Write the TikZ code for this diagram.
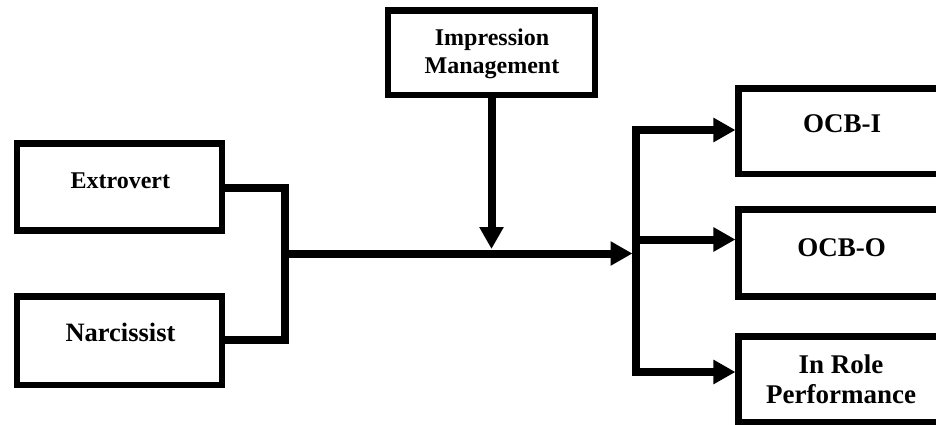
\documentclass[tikz,border=0pt]{standalone}
\usepackage{fontspec}
\setmainfont{Liberation Serif}
\usetikzlibrary{arrows.meta}
\tikzset{
  box/.style={draw=black, line width=6.5pt, inner sep=0pt, minimum width=205pt},
  conn/.style={draw=black, line width=8pt, line join=miter},
  tipped/.style={conn, -{Triangle[length=22pt,width=23pt]}},
  lblA/.style={anchor=base, inner sep=0pt, font=\fontsize{24}{28}\selectfont\bfseries},
  lblB/.style={anchor=base, inner sep=0pt, font=\fontsize{26.5}{30}\selectfont\bfseries},
  lblC/.style={anchor=base, inner sep=0pt, font=\fontsize{27}{30}\selectfont\bfseries}
}
\begin{document}
\begin{tikzpicture}[x=1pt,y=-1pt]
\useasboundingbox (0,0) rectangle (936,425);
\clip (0,0) rectangle (936,425);
\fill[white] (0,0) rectangle (936,425);

% boxes
\node[box, minimum height=87pt] (ext) at (119.5,187) {};
\node[box, minimum height=88.5pt] (nar) at (119.5,340.75) {};
\node[box, minimum width=207pt, minimum height=84.5pt] (im) at (491.5,53) {};
\node[box, minimum width=206pt, minimum height=85.7pt] (ocbi) at (841.7,131.2) {};
\node[box, minimum width=206pt, minimum height=87pt] (ocbo) at (841.7,253) {};
\node[box, minimum width=206pt, minimum height=85.5pt] (irp) at (841.7,379.25) {};

% texts
\node[lblA] (extT) at (120.3,188.3) {Extrovert};
\node[lblB] (narT) at (120.5,341) {Narcissist};
\node[lblA] (imT1) at (492,46) {Impression};
\node[lblA] (imT2) at (492,74) {Management};
\node[lblC] (ocbiT) at (842,132.3) {OCB-I};
\node[lblC] (ocboT) at (841.7,256.7) {OCB-O};
\node[lblC] (irpT1) at (841,373.3) {In Role};
\node[lblC] (irpT2) at (841,403.3) {Performance};

% junction coordinates
\coordinate (jl) at (284.5,253.5);
\coordinate (mtip) at (632.5,253.5);
\coordinate (imtip) at (491.5,249);
\coordinate (vt) at (636,130);
\coordinate (vb) at (636,372);
\coordinate (b1) at (632,130);
\coordinate (b2) at (632,239.5);
\coordinate (b3) at (632,372);

% left merge
\draw[conn] (ext.east |- 0,187.5) -| (jl);
\draw[conn] (nar.east |- 0,340) -| (jl);
\draw[tipped] (jl) -- (mtip);
\draw[tipped] (im.south) -- (imtip);

% right split
\draw[conn] (vt) -- (vb);
\draw[tipped] (b1) -- (b1 -| ocbi.west);
\draw[tipped] (b2) -- (b2 -| ocbo.west);
\draw[tipped] (b3) -- (b3 -| irp.west);
\end{tikzpicture}
\end{document}
